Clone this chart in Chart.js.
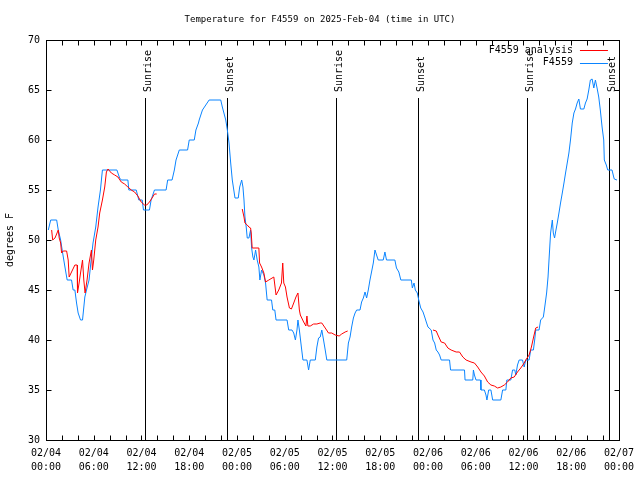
<!DOCTYPE html>
<html>
<head>
<meta charset="utf-8">
<title>F4559 temperature</title>
<script src="https://cdn.jsdelivr.net/npm/chart.js@4.4.1/dist/chart.umd.min.js"></script>
<style>
  html, body { margin: 0; padding: 0; background: #fff; }
  #wrap { width: 640px; height: 480px; }
</style>
</head>
<body>
<div id="wrap"><canvas id="temp-chart" width="640" height="480"></canvas></div>
<script>
// hours since 02/04 00:00 UTC, degrees F
const obsHours = [0.29, 0.59, 1.34, 1.54, 1.84, 2.09, 2.38, 2.66, 3.21, 3.41, 3.63, 3.84, 4.04, 4.34, 4.59, 4.88,
    5.09, 5.41, 5.71, 5.91, 6.25, 6.54, 6.84, 7.09, 8.91, 9.25, 9.46, 10.29, 10.41, 11.34, 11.66, 12.09,
    12.25, 13.0, 13.21, 13.63, 15.09, 15.29, 15.84, 16.13, 16.34, 16.75, 17.79, 18.0, 18.63, 18.84, 19.16,
    19.25, 19.66, 20.5, 21.96, 22.16, 22.59, 22.79, 23.0, 23.21, 23.41, 23.75, 24.16, 24.34, 24.59, 24.75,
    24.88, 25.0, 25.16, 25.29, 25.5, 25.71, 25.84, 26.0, 26.13, 26.34, 26.54, 26.75, 26.88, 27.09, 27.38,
    27.59, 27.79, 28.34, 28.5, 28.75, 28.91, 30.29, 30.5, 30.91, 31.13, 31.34, 31.54, 31.66, 31.84, 32.09,
    32.29, 32.79, 33.0, 33.21, 33.84, 34.04, 34.25, 34.46, 34.66, 34.88, 35.09, 35.29, 37.79, 38.0, 38.21,
    38.41, 38.63, 38.84, 39.04, 39.46, 39.66, 39.88, 40.09, 40.29, 40.5, 40.71, 40.91, 41.13, 41.34, 41.54,
    41.75, 42.38, 42.59, 42.79, 43.84, 44.04, 44.34, 44.59, 45.91, 46.04, 46.25, 46.41, 46.66, 46.84, 47.09,
    47.38, 47.59, 47.79, 48.0, 48.41, 48.63, 48.84, 49.04, 49.25, 49.46, 49.66, 50.71, 50.84, 52.59, 52.66,
    53.63, 53.71, 53.84, 54.04, 54.59, 54.66, 55.09, 55.29, 55.41, 55.63, 55.91, 56.13, 57.16, 57.38, 57.79,
    57.91, 58.41, 58.63, 58.91, 59.04, 59.25, 59.46, 59.88, 60.09, 60.29, 60.71, 60.91, 61.25, 61.41, 61.54,
    61.96, 62.16, 62.5, 62.66, 62.91, 63.09, 63.21, 63.41, 63.63, 63.75, 63.91, 64.04, 64.25, 64.46, 64.66,
    64.88, 65.09, 65.29, 65.5, 65.71, 65.91, 66.13, 66.34, 66.54, 66.75, 66.96, 67.16, 67.59, 67.79, 68.0,
    68.21, 68.41, 68.63, 68.84, 69.04, 69.25, 69.46, 69.66, 69.88, 70.09, 70.16, 70.41, 70.59, 71.13, 71.34,
    71.41, 71.75];
const obsTemps = [51, 52, 52, 51, 50, 48.7, 47.3, 46, 46, 45, 45, 43.7, 42.7, 42, 42, 44.3,
    45, 46, 48.3, 49.7, 51.3, 53.3, 55, 57, 57, 56.2, 56, 56, 55, 55, 54, 54,
    53, 53, 54, 55, 55, 56, 56, 57, 58, 59, 59, 60, 60, 61, 61.7,
    62, 63, 64, 64, 63.3, 62, 61, 59.7, 57.7, 56, 54.2, 54.2, 55.3, 56, 55.3,
    54, 52.3, 51.3, 50.2, 50.2, 51, 49.2, 48.3, 48, 49, 48, 47.3, 46, 47, 46.5,
    45.7, 44, 44, 43, 43, 42, 42, 41, 41, 40.7, 40, 41, 42, 41, 39.3,
    38, 38, 37, 38, 38, 39.3, 40.2, 40.3, 41, 40, 39, 38, 38, 39.7, 40.3,
    41.3, 42.2, 42.7, 43, 43, 43.8, 44.2, 44.8, 44.2, 45, 46, 46.8, 47.7, 49, 48.5,
    48, 48, 48.8, 48, 48, 47.2, 46.8, 46, 46, 45.2, 45.7, 45, 44.7, 44, 43.2,
    42.8, 42.3, 41.8, 41.3, 41, 40, 39.7, 39, 38.8, 38.5, 38, 38, 37, 37, 36,
    36, 37, 36.5, 36, 36, 35, 35, 34.5, 34, 35, 35, 34, 34, 35, 35,
    36, 36, 37, 37, 36.5, 37.5, 38, 38, 37.3, 38, 38, 39, 39, 40, 41,
    41, 42, 42.3, 43.2, 44.7, 46.3, 48, 50.7, 52, 50.7, 50.2, 50.8, 51.7, 52.7, 53.7,
    54.7, 55.7, 56.7, 57.7, 58.7, 60, 61.7, 62.7, 63.1, 63.7, 64.1, 63.1, 63.1, 63.7, 64.1,
    65, 66, 66.1, 65.2, 66, 65.2, 64.3, 63, 61.3, 60, 58, 57.5, 57, 57, 56.3,
    56.1, 56];

// analysis series, null = no analysis
const anaHours = [0.71, 0.84, 1.13, 1.54, 1.66, 1.84, 1.96, 2.16, 2.59, 2.79, 2.91, 3.21, 3.63, 3.91, 3.96, 4.16,
    4.34, 4.59, 4.75, 4.91, 5.16, 5.41, 5.71, 5.84, 6.0, 6.25, 6.54, 6.75, 7.09, 7.38, 7.59, 7.79,
    8.21, 8.63, 9.04, 9.46, 9.88, 10.29, 10.71, 11.13, 11.54, 11.96, 12.38, 12.66, 13.0, 13.41, 13.63, 13.91,
    14.0,
    24.66, 24.88, 25.0, 25.29, 25.5, 25.71, 25.79, 25.91, 26.75, 26.84, 27.09, 27.38, 27.59, 28.0, 28.63,
    28.91, 29.25, 29.59, 29.75, 29.88, 30.09, 30.29, 30.59, 30.84, 31.13, 31.41, 31.66, 31.84, 31.96, 32.38,
    32.66, 32.79, 32.91, 33.21, 33.63, 34.04, 34.46, 34.66, 35.09, 35.5, 35.91, 36.34, 36.84, 37.16, 37.59,
    37.91,
    38.0,
    48.63, 49.04, 49.25, 49.66, 50.09, 50.5, 50.91, 51.54, 51.96, 52.38, 52.79, 53.41, 53.84, 54.25, 54.66,
    55.09, 55.5, 55.91, 56.34, 56.75, 57.16, 57.59, 58.0, 58.41, 58.84, 59.25, 59.66, 60.09, 60.29, 60.71,
    61.0, 61.25, 61.54, 61.84];
const anaTemps = [51, 50, 50.2, 51, 50.2, 49.7, 48.7, 48.9, 48.9, 48, 46.3, 46.8, 47.5, 47.5, 44.7, 45.7,
    46.7, 48, 46, 44.7, 46, 47.7, 49, 47, 48, 50, 51.3, 52.7, 54, 55.3, 56.8, 57.1,
    56.7, 56.5, 56.3, 55.8, 55.6, 55.3, 55, 54.8, 54.4, 53.8, 53.5, 53.5, 53.8, 54.3, 54.6, 54.6,
    null,
    53.1, 52.3, 51.7, 51.5, 51.3, 51.2, 50.7, 49.2, 49.2, 47.7, 47.3, 46.7, 45.8, 46, 46.3,
    44.5, 45, 45.7, 47.7, 45.7, 45.3, 44.3, 43.2, 43.1, 43.7, 44.3, 44.7, 43, 42.5, 41.8,
    41.4, 42.4, 41.4, 41.4, 41.6, 41.6, 41.7, 41.7, 41.2, 40.7, 40.7, 40.5, 40.4, 40.6, 40.8,
    40.9,
    null,
    41, 40.9, 40.5, 39.8, 39.7, 39.2, 39, 38.8, 38.8, 38.3, 38, 37.8, 37.7, 37.3, 36.8,
    36.4, 35.8, 35.5, 35.4, 35.2, 35.3, 35.5, 35.8, 36.2, 36.3, 36.8, 37.2, 37.7, 38, 38.5,
    39.3, 40.2, 41.2, 41.3];

const sunHours  = [12.5, 22.8, 36.4, 46.75, 60.4, 70.8];
const sunLabels = ['Sunrise', 'Sunset', 'Sunrise', 'Sunset', 'Sunrise', 'Sunset'];

const tickDates = ['02/04', '02/04', '02/04', '02/04', '02/05', '02/05', '02/05', '02/05',
                   '02/06', '02/06', '02/06', '02/06', '02/07'];
const tickTimes = ['00:00', '06:00', '12:00', '18:00', '00:00', '06:00', '12:00', '18:00',
                   '00:00', '06:00', '12:00', '18:00', '00:00'];

const chartTitle = 'Temperature for F4559 on 2025-Feb-04 (time in UTC)';

const FONT = 'DejaVu Sans Mono';
const RED  = '#ff0000';
const BLUE = '#0a84ff';

const toPoints = (hs, ts) => hs.map((h, i) => ({ x: h, y: ts[i] }));

// gnuplot look: centred title, frame, inward ticks, sun lines, legend
const gnuplotBits = {
    id: 'gnuplotBits',
    beforeDatasetsDraw(chart) {
        const { ctx, chartArea: a, scales: { x } } = chart;
        ctx.save();
        ctx.fillStyle = '#000';

        // title is centred on the whole image, not the plot
        ctx.font = '9px "' + FONT + '"';
        ctx.textAlign = 'center';
        ctx.textBaseline = 'middle';
        ctx.fillText(chartTitle, chart.width / 2, 20);

        ctx.strokeStyle = '#000';
        ctx.lineWidth = 1;
        ctx.font = '10px "' + FONT + '"';
        sunHours.forEach((h, i) => {
            const px = Math.round(x.getPixelForValue(h)) + 0.5;
            ctx.beginPath();
            ctx.moveTo(px, a.top + 58);
            ctx.lineTo(px, a.bottom);
            ctx.stroke();

            // text reads upward, ending just above the line
            ctx.save();
            ctx.translate(px + 5, a.top + 52);
            ctx.rotate(-Math.PI / 2);
            ctx.textAlign = 'left';
            ctx.textBaseline = 'alphabetic';
            ctx.fillText(sunLabels[i], 0, 0);
            ctx.restore();
        });
        ctx.restore();
    },
    afterDatasetsDraw(chart) {
        const { ctx, chartArea: a, scales: { x, y } } = chart;
        ctx.save();
        ctx.strokeStyle = '#000';
        ctx.lineWidth = 1;
        const L = Math.round(a.left) + 0.5, R = Math.round(a.right) + 0.5;
        const T = Math.round(a.top) + 0.5, B = Math.round(a.bottom) + 0.5;
        ctx.strokeRect(L, T, R - L, B - T);

        ctx.beginPath();
        for (let h = 2; h < 72; h += 2) {
            const px = Math.round(x.getPixelForValue(h)) + 0.5;
            ctx.moveTo(px, B); ctx.lineTo(px, B - 5);
            ctx.moveTo(px, T); ctx.lineTo(px, T + 5);
        }
        for (let t = 35; t < 70; t += 5) {
            const py = Math.round(y.getPixelForValue(t)) + 0.5;
            ctx.moveTo(L, py); ctx.lineTo(L + 5, py);
            ctx.moveTo(R, py); ctx.lineTo(R - 5, py);
        }
        ctx.stroke();

        // key
        ctx.font = '10px "' + FONT + '"';
        ctx.fillStyle = '#000';
        ctx.textAlign = 'right';
        ctx.textBaseline = 'middle';
        chart.data.datasets.forEach((ds, i) => {
            const ly = a.top + 10 + i * 12.5;
            ctx.fillText(ds.label, a.right - 46, ly);
            ctx.strokeStyle = ds.borderColor;
            ctx.beginPath();
            ctx.moveTo(a.right - 39, Math.round(ly) + 0.5);
            ctx.lineTo(a.right - 11, Math.round(ly) + 0.5);
            ctx.stroke();
        });
        ctx.restore();
    }
};

new Chart(document.getElementById('temp-chart'), {
    type: 'line',
    data: {
        datasets: [
            {
                label: 'F4559 analysis',
                data: toPoints(anaHours, anaTemps),
                borderColor: RED,
                borderWidth: 1,
                pointRadius: 0,
                spanGaps: false,
                tension: 0
            },
            {
                label: 'F4559',
                data: toPoints(obsHours, obsTemps),
                borderColor: BLUE,
                borderWidth: 1,
                pointRadius: 0,
                tension: 0
            }
        ]
    },
    options: {
        responsive: false,
        animation: false,
        layout: { padding: { top: 40, right: 19 } },
        plugins: {
            legend: { display: false },
            tooltip: { enabled: false },
            title: { display: false }
        },
        scales: {
            x: {
                type: 'linear',
                min: 0,
                max: 72,
                grid: { display: false, drawTicks: false },
                border: { display: false },
                afterFit: s => { s.height = 40; },
                ticks: {
                    stepSize: 6,
                    autoSkip: false,
                    maxRotation: 0,
                    padding: 6,
                    color: '#000',
                    font: { family: FONT, size: 10, lineHeight: 1.4 },
                    callback: (v, i) => [tickDates[i], tickTimes[i]]
                }
            },
            y: {
                min: 30,
                max: 70,
                grid: { display: false, drawTicks: false },
                border: { display: false },
                afterFit: s => { s.width = 46; },
                title: {
                    display: true,
                    text: 'degrees F',
                    color: '#000',
                    font: { family: FONT, size: 10 },
                    padding: { top: 4, bottom: 0 }
                },
                ticks: {
                    stepSize: 5,
                    padding: 6,
                    color: '#000',
                    font: { family: FONT, size: 10 }
                }
            }
        }
    },
    plugins: [gnuplotBits]
});
</script>
</body>
</html>
